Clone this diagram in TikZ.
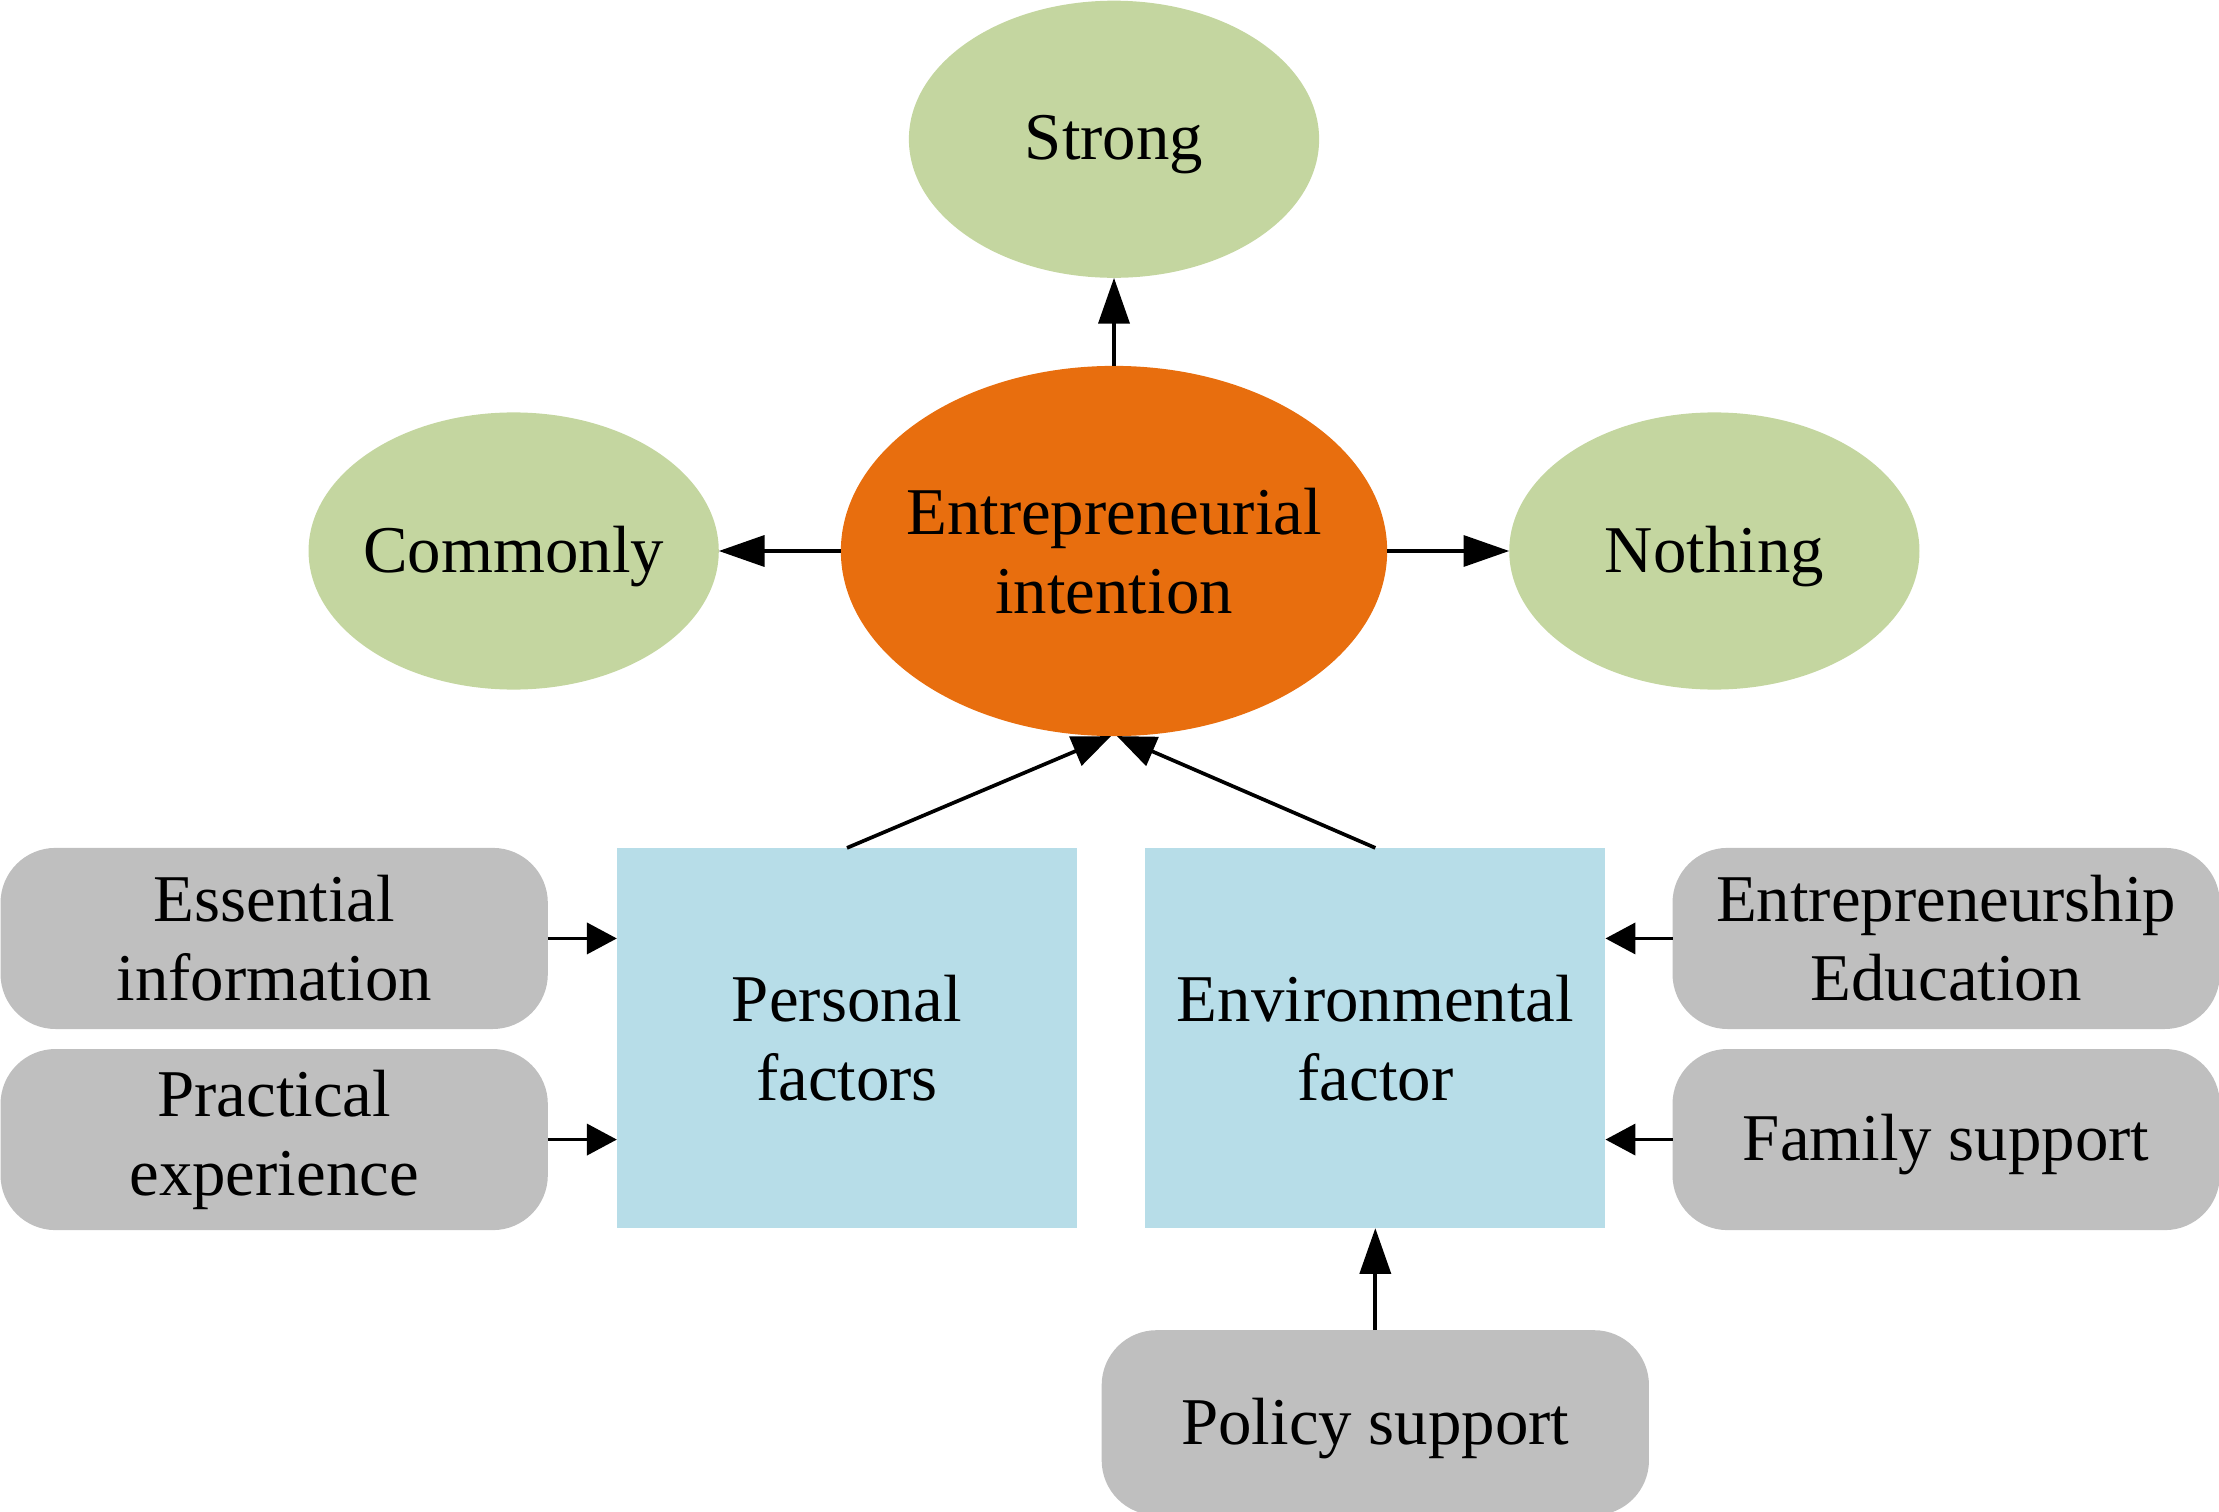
\documentclass[tikz,border=0pt]{standalone}
\usepackage{fontspec}
\setmainfont{Liberation Serif}
\usetikzlibrary{calc,positioning,shapes,arrows.meta}
\definecolor{leaf}{RGB}{196,214,160}
\definecolor{flame}{RGB}{232,110,14}
\definecolor{sky}{RGB}{183,221,232}
\definecolor{stone}{RGB}{191,191,191}

\begin{document}
\begin{tikzpicture}[x=0.01cm,y=0.01cm,font=\fontsize{19}{22.5}\selectfont,
	outcome/.style={ellipse,fill=leaf,minimum width=4.10cm,minimum height=2.77cm,inner xsep=-0.06cm,inner ysep=0pt,text depth=1pt,outer sep=0pt},
	intent/.style={ellipse,fill=flame,minimum width=5.46cm,minimum height=3.70cm,inner xsep=-0.16cm,inner ysep=0pt,outer sep=0pt,align=center},
	factor/.style={rectangle,fill=sky,minimum width=4.60cm,minimum height=3.80cm,outer sep=0pt,align=center},
	source/.style={rectangle,rounded corners=0.55cm,fill=stone,minimum width=5.47cm,minimum height=1.81cm,outer sep=0pt,align=center},
	arr/.style={-{Triangle[length=13pt,width=8.8pt]},line width=1.05pt},
	slant arr/.style={-{Triangle[length=11pt,width=8.8pt]},line width=1.05pt},
	short arr/.style={-{Triangle[length=8.5pt,width=8.8pt]},line width=1.05pt}]
	\useasboundingbox (0,0) rectangle (2219,1511);
	\node(ei) [intent] at (1114,960) {Entrepreneurial\\intention};
	\node(strong) [outcome,above=0.88cm of ei] {Strong};
	\node(commonly) [outcome,left=1.22cm of ei] {Commonly};
	\node(nothing) [outcome,right=1.22cm of ei] {Nothing};
	\node(pers) [factor] at (847,473) {Personal\\factors};
	\node(env) [factor,right=0.68cm of pers] {Environmental\\factor};
	\node(ess) [source,left=0.69cm of pers.north west,anchor=north east] {Essential\\information};
	\node(prac) [source,below=0.20cm of ess] {Practical\\experience};
	\node(edu) [source,right=0.67cm of env.north east,anchor=north west] {Entrepreneurship\\Education};
	\node(fam) [source,text depth=1pt,below=0.20cm of edu] {Family support};
	\node(pol) [source,text depth=1pt,minimum height=1.85cm,below=1.02cm of env] {Policy support};
	\draw[arr] (ei) -- (strong);
	\draw[arr] (ei) -- (commonly);
	\draw[arr] (ei) -- (nothing);
	\draw[slant arr] (pers.north) -- ($(ei.south)+(-3,0)$);
	\draw[slant arr] (env.north) -- ($(ei.south)+(3,0)$);
	\draw[short arr] (ess) -- (ess -| pers.west);
	\draw[short arr] (prac) -- (prac -| pers.west);
	\draw[short arr] (edu) -- (edu -| env.east);
	\draw[short arr] (fam) -- (fam -| env.east);
	\draw[arr] (pol) -- (env);
\end{tikzpicture}
\end{document}
